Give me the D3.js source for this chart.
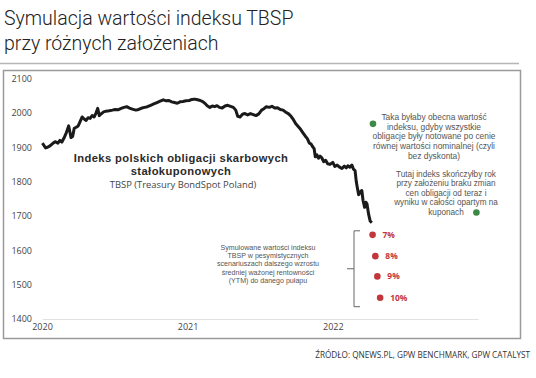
<!DOCTYPE html>
<html>
<head>
<meta charset="utf-8">
<script src="https://cdnjs.cloudflare.com/ajax/libs/d3/7.8.5/d3.min.js"></script>
<style>
  body { margin: 0; background: #fff; }
  svg { display: block; font-family: 'Open Sans', sans-serif; }
</style>
</head>
<body>
<svg id="chart" width="536" height="378"></svg>
<script>
// TBSP index
const dates = [
  '2020-01-02','2020-01-06','2020-01-10','2020-01-15','2020-01-21','2020-01-27','2020-02-03','2020-02-10',
  '2020-02-15','2020-02-20','2020-02-25','2020-03-02','2020-03-08','2020-03-11','2020-03-14','2020-03-18',
  '2020-03-22','2020-03-27','2020-04-01','2020-04-06','2020-04-11','2020-04-16','2020-04-21','2020-04-26',
  '2020-05-01','2020-05-06','2020-05-11','2020-05-16','2020-05-20','2020-05-24','2020-05-28','2020-06-04',
  '2020-06-10','2020-06-18','2020-06-26','2020-07-03','2020-07-10','2020-07-18','2020-07-25','2020-08-01',
  '2020-08-08','2020-08-15','2020-08-24','2020-08-31','2020-09-08','2020-09-15','2020-09-22','2020-09-30',
  '2020-10-08','2020-10-16','2020-10-24','2020-11-01','2020-11-08','2020-11-15','2020-11-22','2020-11-29',
  '2020-12-06','2020-12-13','2020-12-20','2020-12-28','2021-01-05','2021-01-12','2021-01-19','2021-01-26',
  '2021-02-02','2021-02-09','2021-02-15','2021-02-20','2021-02-26','2021-03-04','2021-03-10','2021-03-16',
  '2021-03-22','2021-03-29','2021-04-05','2021-04-12','2021-04-19','2021-04-26','2021-05-02','2021-05-07',
  '2021-05-13','2021-05-19','2021-05-25','2021-06-01','2021-06-08','2021-06-15','2021-06-22','2021-06-29',
  '2021-07-06','2021-07-12','2021-07-18','2021-07-25','2021-08-01','2021-08-08','2021-08-15','2021-08-22',
  '2021-08-29','2021-09-05','2021-09-12','2021-09-18','2021-09-24','2021-09-30','2021-10-06','2021-10-12',
  '2021-10-18','2021-10-24','2021-10-29','2021-11-03','2021-11-07','2021-11-11','2021-11-15','2021-11-18',
  '2021-11-22','2021-11-26','2021-11-30','2021-12-04','2021-12-09','2021-12-14','2021-12-19','2021-12-25',
  '2022-01-01','2022-01-06','2022-01-12','2022-01-18','2022-01-24','2022-01-30','2022-02-04','2022-02-08',
  '2022-02-13','2022-02-18','2022-02-22','2022-02-26','2022-03-01','2022-03-04','2022-03-07','2022-03-11',
  '2022-03-15','2022-03-18','2022-03-22','2022-03-25','2022-03-28','2022-04-01','2022-04-05','2022-04-09'
]
const values = [
  1912,1905,1898,1900,1904,1910,1916,1912,
  1920,1915,1926,1942,1962,1945,1928,1931,
  1955,1958,1962,1975,1988,1982,1978,1986,
  1984,1992,1988,2000,2013,1992,1996,2003,
  2005,2006,2008,2010,2009,2013,2016,2018,
  2014,2011,2008,2010,2014,2016,2018,2022,
  2026,2030,2034,2038,2035,2036,2032,2030,
  2028,2032,2033,2035,2036,2039,2040,2038,
  2036,2032,2026,2020,2016,2020,2018,2021,
  2016,2014,2020,2022,2019,2016,2008,1990,
  1988,1996,1998,1994,1998,1995,1992,1997,
  2008,2012,2018,2016,2019,2014,2015,2010,
  2008,2002,1997,1990,1980,1968,1960,1952,
  1942,1932,1925,1912,1910,1902,1896,1872,
  1878,1868,1874,1870,1858,1862,1852,1850,
  1856,1844,1848,1842,1838,1845,1840,1846,
  1842,1848,1836,1832,1800,1780,1762,1770,
  1774,1745,1725,1740,1735,1705,1685,1680
]

// scenario points
const scenarioDates = ['2022-04-11', '2022-04-18', '2022-04-23', '2022-04-30']
const scenarioValues = [1645, 1583, 1524, 1462]
const scenarioLabels = ['7%', '8%', '9%', '10%']

const parValueDates = ['2022-04-12', '2022-12-28']
const parValueValues = [1968, 1710]

const yTicks = [1400, 1500, 1600, 1700, 1800, 1900, 2000, 2100]
const xTicks = ['2020-01-01', '2021-01-01', '2022-01-01']

const titleLines = ['Symulacja wartości indeksu TBSP', 'przy różnych założeniach']
const seriesTitle = ['Indeks polskich obligacji skarbowych', 'stałokuponowych']
const seriesSubtitle = 'TBSP (Treasury BondSpot Poland)'
const noteParValue = ['Taka byłaby obecna wartość', 'indeksu, gdyby wszystkie', 'obligacje były notowane po cenie', 'równej wartości nominalnej (czyli', 'bez dyskonta)']
const noteYearEnd = ['Tutaj indeks skończyłby rok', 'przy założeniu braku zmian', 'cen obligacji od teraz i', 'wyniku w całości opartym na', 'kuponach']
const noteScenario = ['Symulowane wartości indeksu', 'TBSP w pesymistycznych', 'scenariuszach dalszego wzrostu', 'średniej ważonej rentowności', '(YTM) do danego pułapu']
const source = 'ŹRÓDŁO: QNEWS.PL, GPW BENCHMARK, GPW CATALYST'

const parse = d3.timeParse('%Y-%m-%d')
const red = '#c2363b'
const green = '#3d8a47'
const noteFont = 'Liberation Sans, Arial, sans-serif'

const svg = d3.select('#chart')

// title
svg.append('g')
  .selectAll('text')
  .data(titleLines)
  .join('text')
  .attr('x', 4)
  .attr('y', (d, i) => 25 + i * 25)
  .attr('font-family', 'Roboto, sans-serif')
  .attr('font-weight', 300)
  .attr('font-size', 19.5)
  .attr('fill', '#222')
  .text((d) => d)

svg.append('line')
  .attr('x1', 0).attr('x2', 519)
  .attr('y1', 63.5).attr('y2', 63.5)
  .attr('stroke', '#b5b5b5')
  .attr('stroke-width', 1.5)

// chart frame
svg.append('rect')
  .attr('x', 3.5).attr('y', 70.5)
  .attr('width', 517).attr('height', 268)
  .attr('fill', '#fff')
  .attr('stroke', '#9a9a9a')
  .attr('stroke-width', 1.5)

const x = d3.scaleTime()
  .domain([parse('2020-01-01'), parse('2023-01-01')])
  .range([42, 478])
const y = d3.scaleLinear()
  .domain([1400, 2100])
  .range([319, 78.5])

// y axis
const yAxis = svg.append('g')
  .attr('transform', 'translate(33,0)')
  .call(d3.axisLeft(y).tickValues(yTicks).tickFormat(d3.format('d')).tickSize(0).tickPadding(1))
yAxis.select('.domain').remove()
yAxis.selectAll('text')
  .attr('font-family', 'Open Sans, sans-serif')
  .attr('font-size', 9)
  .attr('fill', '#444')

// x axis
const xAxis = svg.append('g')
  .attr('transform', 'translate(0,319)')
  .call(d3.axisBottom(x).tickValues(xTicks.map(parse)).tickFormat(d3.timeFormat('%Y')).tickSize(0).tickPadding(5))
xAxis.select('.domain').attr('stroke', '#e2e2e2').attr('stroke-width', 1)
xAxis.selectAll('text')
  .attr('font-family', 'Open Sans, sans-serif')
  .attr('font-size', 9)
  .attr('fill', '#444')

// index line
const series = dates.map((d, i) => ({ date: parse(d), value: values[i] }))
const line = d3.line()
  .x((d) => x(d.date))
  .y((d) => y(d.value))
svg.append('path')
  .datum(series)
  .attr('fill', 'none')
  .attr('stroke', '#1a1a1a')
  .attr('stroke-width', 3)
  .attr('stroke-linejoin', 'round')
  .attr('d', line)

// multi-line centred text as one element with tspans
function block(lines, cx, top, step, size, fill, weight, family) {
  const t = svg.append('text')
    .attr('text-anchor', 'middle')
    .attr('font-size', size)
    .attr('font-weight', weight || 400)
    .attr('fill', fill)
  if (family) t.attr('font-family', family)
  t.selectAll('tspan')
    .data(lines)
    .join('tspan')
    .attr('x', cx)
    .attr('y', (d, i) => top + i * step)
    .text((d) => d)
  return t
}

// series title
block(seriesTitle, 181, 162, 13, 11.2, '#2a2a2a', 700, noteFont)
  .attr('letter-spacing', 0.4)
svg.append('text')
  .attr('x', 183)
  .attr('y', 187.5)
  .attr('text-anchor', 'middle')
  .attr('font-size', 9.4)
  .attr('fill', '#444')
  .text(seriesSubtitle)

// notes
block(noteParValue, 434, 120, 9.7, 8.4, '#555', 400, noteFont)
block(noteYearEnd, 446, 176.5, 9.5, 8.2, '#555', 400, noteFont)
block(noteScenario, 268, 249.5, 8.4, 7.1, '#555', 400, noteFont)

// bracket for scenarios
const bTop = y(scenarioValues[0]) - 4
const bBot = y(scenarioValues[3]) + 9
const bMid = (bTop + bBot) / 2
svg.append('path')
  .attr('d', `M360,${bTop}H354V${bBot}H360M354,${bMid}H347`)
  .attr('fill', 'none')
  .attr('stroke', '#666')
  .attr('stroke-width', 1)

// scenario dots
const scen = scenarioDates.map((d, i) => ({ date: parse(d), value: scenarioValues[i], label: scenarioLabels[i] }))
svg.append('g')
  .selectAll('circle')
  .data(scen)
  .join('circle')
  .attr('cx', (d) => x(d.date))
  .attr('cy', (d) => y(d.value))
  .attr('r', 3.3)
  .attr('fill', red)
svg.append('g')
  .selectAll('text')
  .data(scen)
  .join('text')
  .attr('x', (d) => x(d.date) + 10)
  .attr('y', (d) => y(d.value) + 3)
  .attr('font-size', 8.4)
  .attr('font-weight', 700)
  .attr('fill', red)
  .text((d) => d.label)

// par-value dots
svg.append('g')
  .selectAll('circle')
  .data(parValueDates.map((d, i) => ({ date: parse(d), value: parValueValues[i] })))
  .join('circle')
  .attr('cx', (d) => x(d.date))
  .attr('cy', (d) => y(d.value))
  .attr('r', 3.3)
  .attr('fill', green)

// source
svg.append('text')
  .attr('x', 530)
  .attr('y', 358)
  .attr('text-anchor', 'end')
  .attr('font-size', 8.2)
  .attr('fill', '#333')
  .text(source)
</script>
</body>
</html>
